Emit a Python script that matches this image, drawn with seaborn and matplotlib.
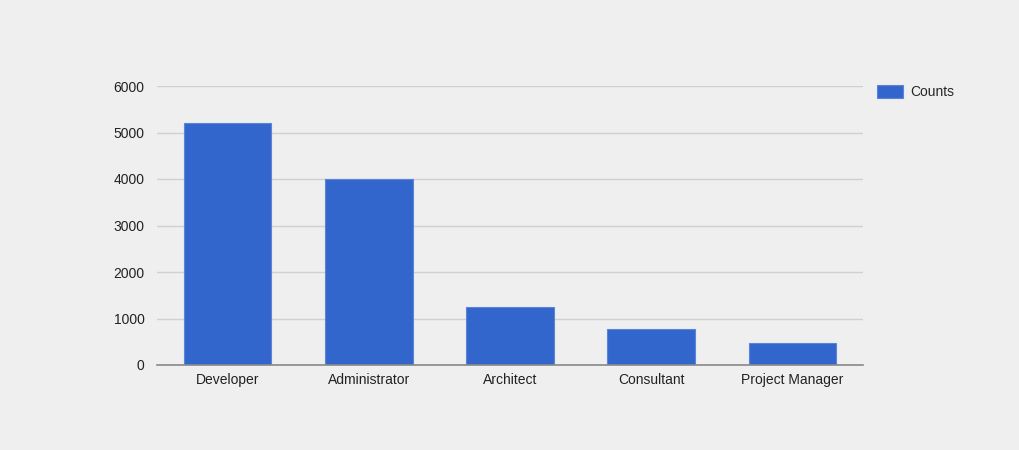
import matplotlib
matplotlib.use('Agg')
import matplotlib.pyplot as plt
import pandas as pd
import seaborn as sns

# values
roles = ['Developer', 'Administrator', 'Architect', 'Consultant',
         'Project Manager']
counts = [5215, 4010, 1245, 770, 480]
yticks = [0, 1000, 2000, 3000, 4000, 5000, 6000]

BG = '#efefef'
BAR = '#3366cc'

sns.set_theme(style='white')
plt.rcParams['font.family'] = ['Liberation Sans', 'DejaVu Sans']

data = pd.DataFrame({'Role': roles, 'Counts': counts})

fig = plt.figure(figsize=(10.2, 4.5), dpi=100, facecolor=BG)
ax = fig.add_axes([157 / 1020, 1 - 365 / 450, 706 / 1020, 279 / 450])
ax.set_facecolor(BG)

sns.barplot(data=data, x='Role', y='Counts', color=BAR, saturation=1,
            width=0.62, label='Counts', ax=ax, zorder=3,
            edgecolor='#5b86d8', linewidth=0.8)

ax.set_ylim(0, 6000)
ax.set_yticks(yticks)
ax.set_xlim(-0.5, len(roles) - 0.5)
ax.grid(axis='y', color='#d0d0d0', linewidth=1, zorder=0)
ax.set_xlabel('')
ax.set_ylabel('')
for side in ['top', 'right', 'left']:
    ax.spines[side].set_visible(False)
ax.spines['bottom'].set_color('#888888')
ax.spines['bottom'].set_linewidth(1.2)
ax.spines['bottom'].set_zorder(4)
ax.tick_params(axis='both', length=0, labelsize=10, colors='#222222')
ax.tick_params(axis='y', pad=9)
ax.tick_params(axis='x', pad=6)

leg = ax.legend(loc='upper left', bbox_to_anchor=(1.012, 1.022),
                frameon=False, fontsize=10, handlelength=1.9,
                handleheight=1.0, handletextpad=0.5, borderaxespad=0)

fig.savefig('out.png', dpi=100, facecolor=BG)
